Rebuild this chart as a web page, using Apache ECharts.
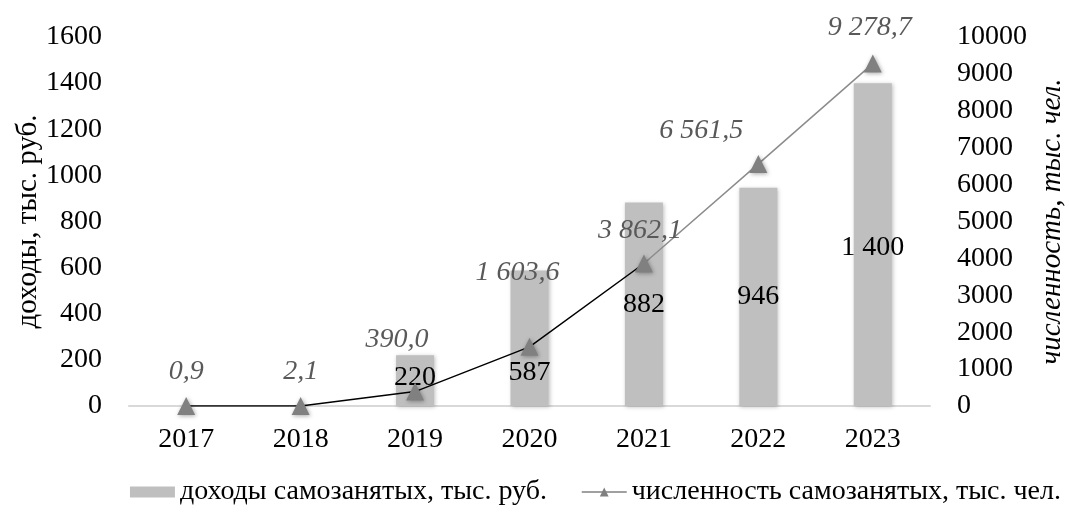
<!DOCTYPE html>
<html><head><meta charset="utf-8">
<script src="https://cdn.jsdelivr.net/npm/echarts@6/dist/echarts.min.js"></script>
<style>html,body{margin:0;padding:0;background:#fff}#c{width:1069px;height:520px}</style>
</head><body><div id="c"></div>
<script>
const years = ['2017','2018','2019','2020','2021','2022','2023'];
const income = [0, 0, 220, 587, 882, 946, 1400];
const count = [0.9, 2.1, 390.0, 1603.6, 3862.1, 6561.5, 9278.7];
const incomeName = 'доходы самозанятых, тыс. руб.';
const countName = 'численность самозанятых, тыс. чел.';
const leftAxisName = 'доходы, тыс. руб.';
const rightAxisName = 'численность, тыс. чел.';

function groupThousands(s){ return s.replace(/\B(?=(\d{3})+(?!\d))/g, ' '); }
function fmtCount(v){ const p = v.toFixed(1).split('.'); return groupThousands(p[0]) + ',' + p[1]; }
function fmtIncome(v){ return groupThousands(String(v)); }

const FONT = '"Liberation Serif", "Times New Roman", serif';
const barLabelOffsets = [[0,0],[0,0],[0,-3],[0,34],[0,0],[0,0],[0,3]];
const lineLabelOffsets = [[0,-6],[0,-6],[-18,-24],[-12,-46],[-4,-5],[-57,-5],[-3,-8]];

const barData = income.map((v,i)=>({
  value: v,
  label: { offset: barLabelOffsets[i], show: v > 0 }
}));
const lineData = count.map((v,i)=>({
  value: v,
  label: { offset: lineLabelOffsets[i] }
}));

const chart = echarts.init(document.getElementById('c'), null, {renderer:'canvas'});
chart.setOption({
  animation: false,
  backgroundColor: '#ffffff',
  textStyle: { fontFamily: FONT },
  grid: { left: 129, right: 139, top: 37, bottom: 114, outerBoundsMode: 'none', containLabel: false },
  legend: {
    right: 3, top: 473,
    itemWidth: 45, itemHeight: 11, itemGap: 34,
    textStyle: { fontFamily: FONT, fontSize: 28, color: '#000' },
    data: [
      { name: incomeName, icon: 'rect' },
      { name: countName, lineStyle: { color: '#808080', width: 1.5 } }
    ]
  },
  xAxis: {
    type: 'category', data: years,
    axisLine: { lineStyle: { color: '#d9d9d9', width: 2 } },
    axisTick: { show: false },
    axisLabel: { fontFamily: FONT, fontSize: 28, color: '#000', margin: 20 }
  },
  yAxis: [
    {
      type: 'value', min: 0, max: 1600, interval: 200,
      name: leftAxisName, nameLocation: 'middle', nameRotate: 90, nameGap: 86, nameMoveOverlap: false,
      nameTextStyle: { fontFamily: FONT, fontSize: 29, color: '#000' },
      splitLine: { show: false }, axisLine: { show: false }, axisTick: { show: false },
      axisLabel: { fontFamily: FONT, fontSize: 28, color: '#000', margin: 27, formatter: v => String(v) }
    },
    {
      type: 'value', min: 0, max: 10000, interval: 1000, position: 'right',
      name: rightAxisName, nameLocation: 'middle', nameRotate: 90, nameGap: 108, nameMoveOverlap: false,
      nameTextStyle: { fontFamily: FONT, fontSize: 29, color: '#000', fontStyle: 'italic' },
      splitLine: { show: false }, axisLine: { show: false }, axisTick: { show: false },
      axisLabel: { fontFamily: FONT, fontSize: 28, color: '#000', margin: 27, formatter: v => String(v) }
    }
  ],
  series: [
    {
      name: incomeName, type: 'bar', yAxisIndex: 0, barWidth: 38,
      data: barData,
      itemStyle: { color: '#bfbfbf', shadowBlur: 4, shadowColor: 'rgba(0,0,0,0.25)', shadowOffsetX: 1, shadowOffsetY: 1 },
      label: { show: true, position: 'inside', fontFamily: FONT, fontSize: 28, color: '#000', formatter: p => fmtIncome(p.value) },
      z: 1
    },
    {
      name: countName, type: 'line', yAxisIndex: 1,
      data: lineData,
      symbol: 'triangle', symbolSize: 18,
      itemStyle: { color: '#808080', shadowBlur: 4, shadowColor: 'rgba(0,0,0,0.35)', shadowOffsetX: 1, shadowOffsetY: 1 },
      lineStyle: {
        width: 1.5,
        color: new echarts.graphic.LinearGradient(0, 0, 1, 0, [
          { offset: 0, color: '#000000' },
          { offset: 0.666, color: '#000000' },
          { offset: 0.667, color: '#8c8c8c' },
          { offset: 1, color: '#8c8c8c' }
        ])
      },
      label: { show: true, position: 'top', fontFamily: FONT, fontSize: 28, fontStyle: 'italic', color: '#595959', formatter: p => fmtCount(p.value) },
      z: 3
    }
  ]
});
</script></body></html>
